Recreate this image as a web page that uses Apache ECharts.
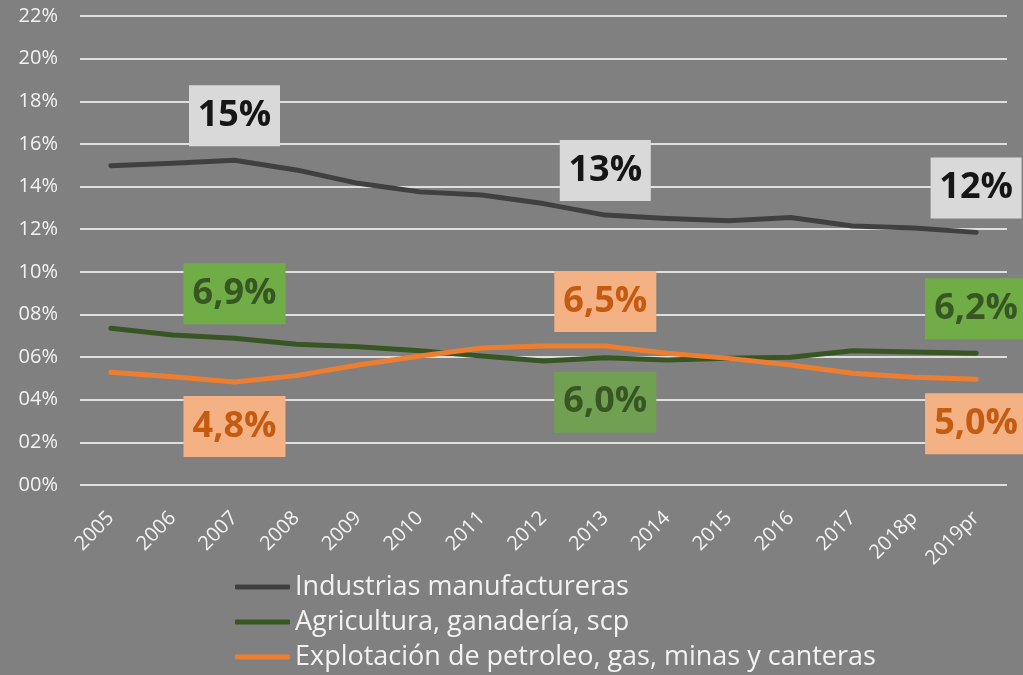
<!DOCTYPE html>
<html>
<head>
<meta charset="utf-8">
<script src="https://cdn.jsdelivr.net/npm/echarts@6/dist/echarts.min.js"></script>
<style>
  html, body { margin: 0; padding: 0; background: #808080; }
  #chart_part { width: 1023px; height: 675px; }
</style>
</head>
<body>
<div id="chart_part"></div>
<script>
var years = ['2005', '2006', '2007', '2008', '2009', '2010', '2011', '2012', '2013', '2014', '2015', '2016', '2017', '2018p', '2019pr'];
var industrias = [14.98, 15.09, 15.23, 14.78, 14.15, 13.75, 13.6, 13.2, 12.66, 12.5, 12.4, 12.55, 12.15, 12.05, 11.85];
var agricultura = [7.35, 7.04, 6.88, 6.6, 6.49, 6.3, 6.05, 5.82, 5.97, 5.86, 5.94, 5.99, 6.3, 6.24, 6.18];
var explotacion = [5.29, 5.08, 4.83, 5.13, 5.63, 6.05, 6.43, 6.52, 6.52, 6.18, 5.94, 5.63, 5.24, 5.05, 4.96];
var names = ['Industrias manufactureras', 'Agricultura, ganadería, scp', 'Explotación de petroleo, gas, minas y canteras'];
// indices with a data label, and where it sits
var labelIdx = [2, 8, 14];
var industriasPos = ['top', 'top', 'top'];
var agriculturaPos = ['top', 'bottom', 'top'];
var explotacionPos = ['bottom', 'top', 'bottom'];

var myChart = echarts.init(document.getElementById('chart_part'));
var font = '"Open Sans", "DejaVu Sans", sans-serif';

function pct1(v) {
  return v.toFixed(1).replace('.', ',') + '%';
}

function buildData(vals, pos, lab) {
  return vals.map(function (v, i) {
    var k = labelIdx.indexOf(i);
    if (k < 0) return v;
    var l = {
      show: true,
      position: pos[k],
      distance: 14,
      formatter: lab.fmt,
      color: lab.color,
      backgroundColor: lab.bg[k] || lab.bg[0],
      fontFamily: font,
      fontWeight: 'bold',
      fontSize: 36,
      width: lab.w,
      height: 61,
      lineHeight: 61,
      align: 'center',
      padding: 0
    };
    return { value: v, label: l };
  });
}

var option = {
  animation: false,
  backgroundColor: '#808080',
  grid: {
    left: 80,
    right: 16,
    top: 16,
    bottom: 190
  },
  legend: {
    orient: 'vertical',
    left: 235,
    top: 573,
    padding: 0,
    itemWidth: 55,
    itemHeight: 5,
    itemGap: 7,
    icon: 'roundRect',
    textStyle: {
      color: '#f2f2f2',
      fontFamily: font,
      fontSize: 27,
      lineHeight: 28,
      padding: [0, 0, 0, 0]
    },
    data: names
  },
  xAxis: {
    type: 'category',
    data: years,
    boundaryGap: true,
    axisLine: { show: false },
    axisTick: { show: false },
    axisLabel: {
      rotate: 45,
      margin: 30,
      interval: 0,
      color: '#f2f2f2',
      fontFamily: font,
      fontSize: 20
    }
  },
  yAxis: {
    type: 'value',
    min: 0,
    max: 22,
    interval: 2,
    axisLine: { show: false },
    axisTick: { show: false },
    splitLine: { lineStyle: { color: '#ffffff', width: 1.5 } },
    axisLabel: {
      margin: 22,
      color: '#f2f2f2',
      fontFamily: font,
      fontSize: 20,
      formatter: function (v) {
        return (v < 10 ? '0' : '') + v + '%';
      }
    }
  },
  series: [
    {
      name: names[0],
      type: 'line',
      symbol: 'circle',
      symbolSize: 0,
      color: '#404040',
      lineStyle: { width: 5, color: '#404040', cap: 'round', join: 'round' },
      data: buildData(industrias, industriasPos, {
        fmt: function (p) { return Math.round(p.value) + '%'; },
        color: '#161616',
        bg: ['#d9d9d9'],
        w: 91
      })
    },
    {
      name: names[1],
      type: 'line',
      symbol: 'circle',
      symbolSize: 0,
      color: '#375623',
      lineStyle: { width: 5, color: '#375623', cap: 'round', join: 'round' },
      data: buildData(agricultura, agriculturaPos, {
        fmt: function (p) { return pct1(p.value); },
        color: '#375623',
        bg: ['#70ad47', '#71a052', '#70ad47'],
        w: 102
      })
    },
    {
      name: names[2],
      type: 'line',
      symbol: 'circle',
      symbolSize: 0,
      color: '#ed7d31',
      lineStyle: { width: 5, color: '#ed7d31', cap: 'round', join: 'round' },
      data: buildData(explotacion, explotacionPos, {
        fmt: function (p) { return pct1(p.value); },
        color: '#c55a11',
        bg: ['#f4b183'],
        w: 102
      })
    }
  ]
};

myChart.setOption(option);
</script>
</body>
</html>
